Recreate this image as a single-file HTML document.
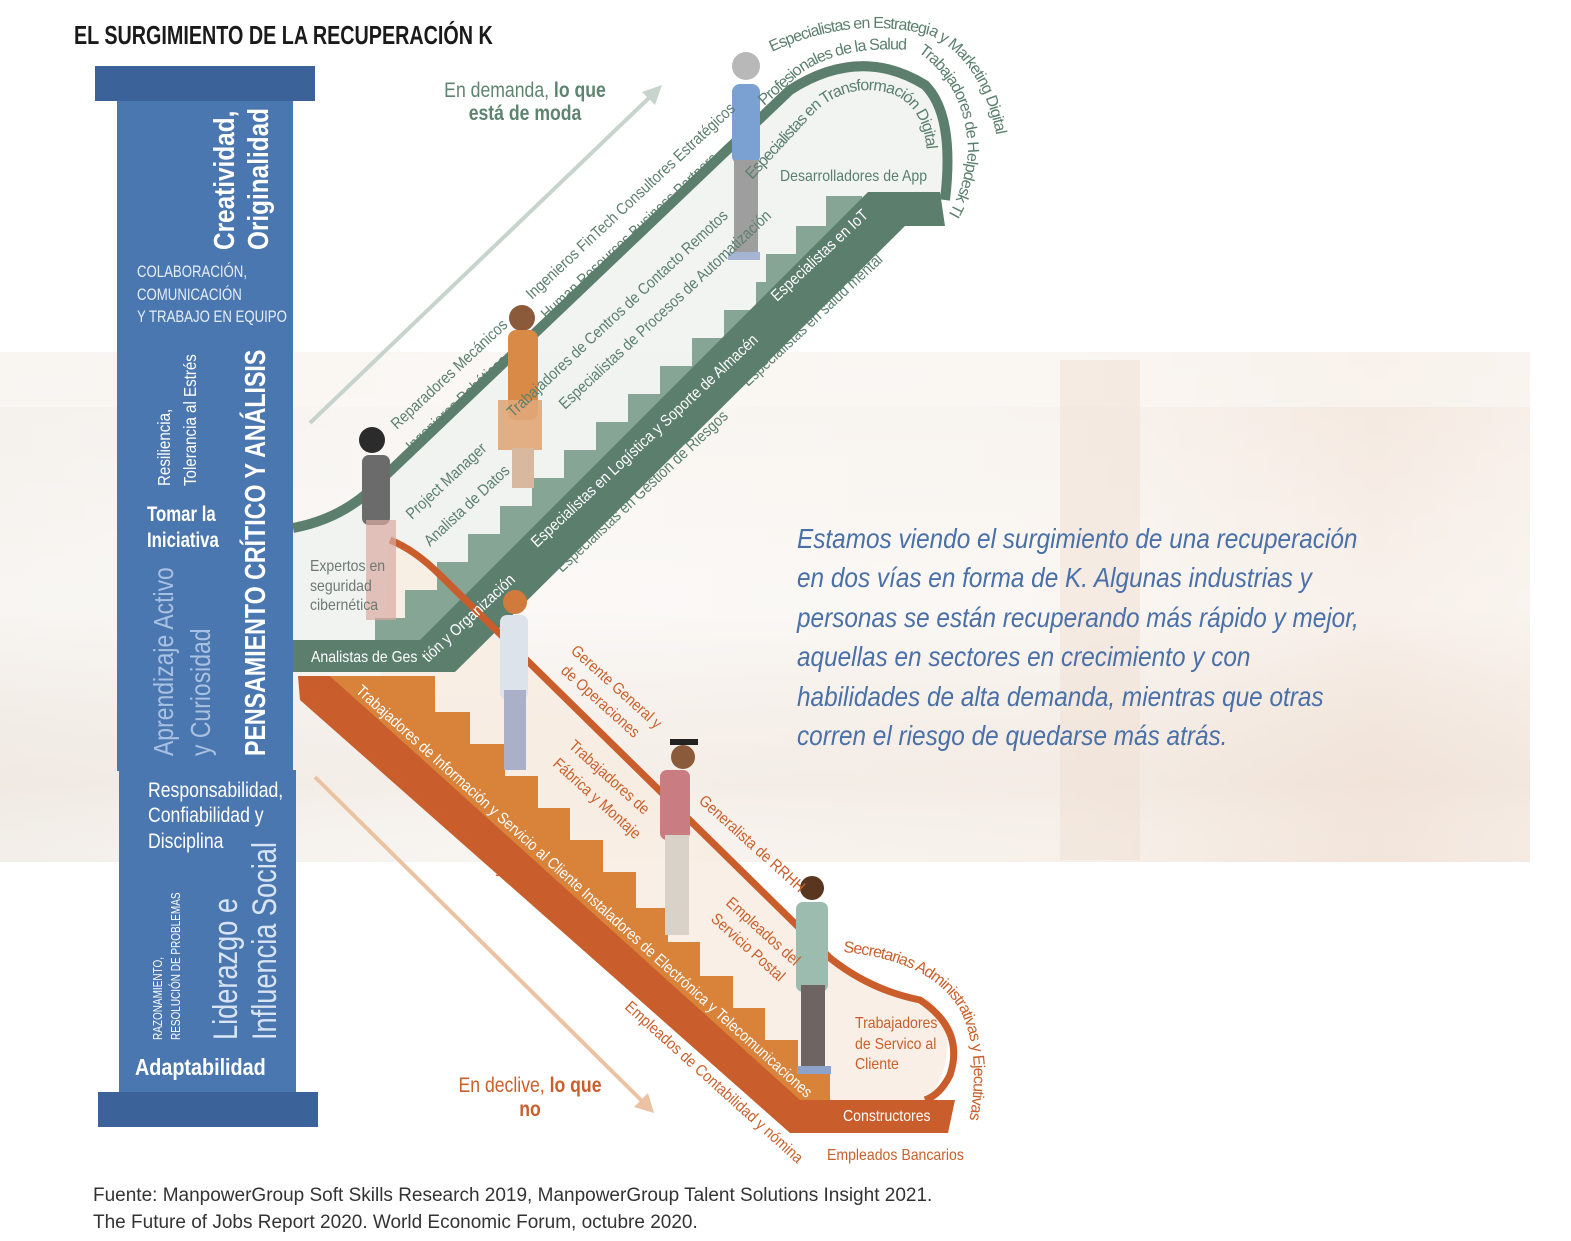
<!DOCTYPE html>
<html><head><meta charset="utf-8">
<style>
html,body{margin:0;padding:0;background:#fff;}
svg{display:block;}
text{font-family:"Liberation Sans Narrow","Liberation Sans",sans-serif;}
.w{fill:#fff}
</style></head><body>
<svg width="1571" height="1241" viewBox="0 0 1571 1241" xmlns="http://www.w3.org/2000/svg">
<defs>
<linearGradient id="bg" x1="0" y1="0" x2="1" y2="0">
<stop offset="0" stop-color="#f1ece6"/><stop offset="0.3" stop-color="#f7f3ef"/><stop offset="0.7" stop-color="#f6efe8"/><stop offset="0.9" stop-color="#f1e2d6"/><stop offset="1" stop-color="#f4e9e0"/>
</linearGradient>
<linearGradient id="bgv" x1="0" y1="0" x2="0" y2="1">
<stop offset="0" stop-color="#fff" stop-opacity="0.2"/><stop offset="0.5" stop-color="#fff" stop-opacity="0.5"/><stop offset="0.85" stop-color="#efe4dc" stop-opacity="0.3"/><stop offset="1" stop-color="#fff" stop-opacity="0.1"/>
</linearGradient>
<path id="pTrans" d="M752,180 L815,112 Q850,80 895,95 Q935,115 925,185"/>
<path id="pSalud" d="M764,106 L800,74 Q840,45 910,50"/>
<path id="pEstr" d="M772,52 Q850,15 930,35 Q990,65 1000,160"/>
<path id="pHelp" d="M918,52 Q965,85 968,150 Q965,195 935,235"/>
<path id="pSecr" d="M843,952 Q930,960 960,1010 Q985,1060 965,1140"/>
</defs>
<rect x="0" y="352" width="1530" height="510" fill="url(#bg)"/>
<rect x="0" y="352" width="1530" height="510" fill="url(#bgv)"/>
<rect x="0" y="352" width="1530" height="55" fill="#fbf8f5" opacity="0.6"/>
<rect x="1060" y="360" width="80" height="500" fill="#efe0d3" opacity="0.5"/>

<text transform="translate(74,44) scale(.76,1)" font-size="26" font-weight="bold" fill="#1a1a1a">EL SURGIMIENTO DE LA RECUPERACIÓN K</text>

<rect x="95" y="66" width="220" height="35" fill="#3b639a"/>
<rect x="117" y="101" width="176" height="670" fill="#4b77b0"/>
<rect x="119" y="770" width="177" height="322" fill="#4b77b0"/>
<rect x="98" y="1092" width="220" height="35" fill="#3b639a"/>
<g font-size="29" font-weight="bold" class="w">
<text transform="translate(234,250) rotate(-90) scale(.84,1)">Creatividad,</text>
<text transform="translate(268,250) rotate(-90) scale(.84,1)">Originalidad</text>
</g>
<g font-size="16.5" fill="#e6eef8">
<text transform="translate(137,277) scale(.8,1)">COLABORACIÓN,</text>
<text transform="translate(137,300) scale(.8,1)">COMUNICACIÓN</text>
<text transform="translate(137,322) scale(.8,1)">Y TRABAJO EN EQUIPO</text>
</g>
<g font-size="18" fill="#fff">
<text transform="translate(170,486) rotate(-90) scale(.84,1)">Resiliencia,</text>
<text transform="translate(196,486) rotate(-90) scale(.84,1)">Tolerancia al Estrés</text>
</g>
<text transform="translate(265,756) rotate(-90) scale(.8,1)" font-size="29" font-weight="bold" fill="#fff">PENSAMIENTO CRÍTICO Y ANÁLISIS</text>
<g font-size="21" font-weight="bold" fill="#fff">
<text transform="translate(147,521) scale(.8,1)">Tomar la</text>
<text transform="translate(147,547) scale(.8,1)">Iniciativa</text>
</g>
<g font-size="28" fill="#a8c0e2">
<text transform="translate(173,756) rotate(-90) scale(.82,1)">Aprendizaje Activo</text>
<text transform="translate(210,756) rotate(-90) scale(.82,1)">y Curiosidad</text>
</g>
<g font-size="21" fill="#fff">
<text transform="translate(148,797) scale(.84,1)">Responsabilidad,</text>
<text transform="translate(148,822) scale(.84,1)">Confiabilidad y</text>
<text transform="translate(148,848) scale(.84,1)">Disciplina</text>
</g>
<g font-size="12.5" fill="#fff">
<text transform="translate(162,1040) rotate(-90) scale(.8,1)">RAZONAMIENTO,</text>
<text transform="translate(180,1040) rotate(-90) scale(.8,1)">RESOLUCIÓN DE PROBLEMAS</text>
</g>
<g font-size="34" fill="#d8e4f4">
<text transform="translate(237,1040) rotate(-90) scale(.8,1)">Liderazgo e</text>
<text transform="translate(276,1040) rotate(-90) scale(.8,1)">Influencia Social</text>
</g>
<text transform="translate(135,1075) scale(.86,1)" font-size="23" font-weight="bold" fill="#fff">Adaptabilidad</text>

<line x1="310" y1="423" x2="652" y2="95" stroke="#c6d4cd" stroke-width="4"/>
<polygon points="662,85 642,92 655,105" fill="#c6d4cd"/>
<line x1="315" y1="777" x2="645" y2="1104" stroke="#ebc3a3" stroke-width="4"/>
<polygon points="654,1113 634,1107 648,1093" fill="#ebc3a3"/>
<g font-size="21" text-anchor="middle">
<text transform="translate(525,97) scale(.84,1)" fill="#5e8470">En demanda, <tspan font-weight="bold">lo que</tspan></text>
<text transform="translate(525,120) scale(.84,1)" fill="#5e8470" font-weight="bold">está de moda</text>
<text transform="translate(530,1092) scale(.84,1)" fill="#c9602c">En declive, <tspan font-weight="bold">lo que</tspan></text>
<text transform="translate(530,1116) scale(.84,1)" fill="#c9602c" font-weight="bold">no</text>
</g>

<path d="M293,528 Q330,515 360,500 L800,85 Q860,50 920,85 Q955,115 945,200 L860,200 L420,640 L293,640 Z" fill="#eef2ef" opacity="0.85"/>
<path d="M390,540 Q415,550 440,575 L835,962 Q870,985 930,1000 Q965,1040 930,1100 L820,1100 L380,690 Z" fill="#f8ece2" opacity="0.85"/>

<path d="M375,640 L375,618 L405,618 L405,590 L437,590 L437,562 L468,562 L468,534 L500,534 L500,506 L532,506 L532,478 L564,478 L564,450 L596,450 L596,422 L628,422 L628,394 L660,394 L660,366 L692,366 L692,338 L724,338 L724,310 L756,310 L756,282 L766,282 L766,254 L796,254 L796,226 L826,226 L826,196 L862,196 L862,210 L430,640 Z" fill="#86a595"/>
<path d="M293,640 L420,640 L868,192 L940,192 L945,226 L905,226 L455,672 L293,672 Z" fill="#5c7f6d"/>
<path d="M293,528 Q335,520 365,495 L790,90 Q860,45 925,85 Q955,115 945,200" fill="none" stroke="#5c7f6d" stroke-width="10"/>

<path d="M330,676 L435,676 L435,712 L470,712 L470,744 L505,744 L505,776 L538,776 L538,808 L570,808 L570,840 L603,840 L603,872 L636,872 L636,908 L668,908 L668,942 L700,942 L700,976 L733,976 L733,1008 L765,1008 L765,1040 L798,1040 L798,1072 L830,1072 L830,1100 L795,1100 Z" fill="#d8823a"/>
<path d="M298,676 L330,676 L800,1100 L955,1100 L948,1133 L790,1133 L300,700 Z" fill="#c95d2b"/>
<path d="M390,540 Q415,550 440,575 L830,958 Q870,990 920,1000 Q965,1030 950,1075 Q940,1095 925,1100" fill="none" stroke="#c95d2b" stroke-width="7"/>

<g>
<circle cx="746" cy="66" r="14" fill="#b8b8b8"/><rect x="732" y="84" width="28" height="80" rx="8" fill="#7aa1d1"/><rect x="734" y="160" width="24" height="95" fill="#9e9e9e"/><rect x="728" y="252" width="32" height="8" fill="#a6b4d4"/>
<circle cx="522" cy="318" r="13" fill="#8a5a3a"/><rect x="508" y="330" width="30" height="90" rx="8" fill="#d98a47"/><rect x="498" y="400" width="44" height="50" fill="#e0a778" opacity="0.9"/><rect x="512" y="448" width="22" height="40" fill="#d9b8a0"/>
<circle cx="372" cy="440" r="13" fill="#2b2b2b"/><rect x="362" y="455" width="28" height="70" rx="7" fill="#6b6b6b"/><rect x="366" y="520" width="30" height="100" fill="#d8aaa0" opacity="0.7"/>
<circle cx="515" cy="602" r="12" fill="#d07a3c"/><rect x="500" y="615" width="28" height="85" rx="7" fill="#dde3ea"/><rect x="504" y="690" width="22" height="80" fill="#aab0c8"/>
<circle cx="683" cy="757" r="12" fill="#8a5a3a"/><path d="M670,745 h28 v-6 h-28z" fill="#222"/><rect x="660" y="770" width="30" height="70" rx="7" fill="#c97c82"/><rect x="665" y="835" width="24" height="100" fill="#d8d2c8"/>
<circle cx="812" cy="888" r="12" fill="#5a3520"/><rect x="796" y="902" width="32" height="90" rx="7" fill="#9cbcb0"/><rect x="801" y="985" width="24" height="85" fill="#6e6464"/><rect x="797" y="1066" width="34" height="8" fill="#8ea3c9"/>
</g>

<g font-size="16" fill="#5b7f6d">
<text transform="translate(397,430) rotate(-43) scale(.88,1)">Reparadores Mecánicos</text>
<text transform="translate(412,452) rotate(-43) scale(.88,1)">Ingenieros Robóticos</text>
<text transform="translate(532,300) rotate(-43) scale(.88,1)">Ingenieros FinTech  Consultores Estratégicos</text>
<text transform="translate(547,320) rotate(-43) scale(.88,1)">Human Resources Business Partners</text>
<text transform="translate(412,520) rotate(-43) scale(.88,1)">Project Manager</text>
<text transform="translate(430,547) rotate(-43) scale(.88,1)">Analista de Datos</text>
<text transform="translate(513,418) rotate(-43) scale(.88,1)">Trabajadores de Centros de Contacto Remotos</text>
<text transform="translate(565,410) rotate(-43) scale(.88,1)">Especialistas de Procesos de Automatización</text>
<text transform="translate(562,573) rotate(-43) scale(.88,1)">Especialistas en Gestión de Riesgos</text>
<text transform="translate(748,387) rotate(-43) scale(.88,1)">Especialistas en salud mental</text>
<text transform="translate(780,181) scale(.88,1)">Desarrolladores de App</text>
</g>
<g font-size="16" fill="#5b7f6d" letter-spacing="-0.9">
<text><textPath href="#pTrans">Especialistas en Transformación Digital</textPath></text>
<text><textPath href="#pSalud">Profesionales de la Salud</textPath></text>
<text><textPath href="#pEstr">Especialistas en Estrategia y Marketing Digital</textPath></text>
<text><textPath href="#pHelp">Trabajadores de Helpdesk TI</textPath></text>
</g>
<g font-size="16" fill="#6d7a72">
<text transform="translate(310,571) scale(.88,1)">Expertos en</text>
<text transform="translate(310,591) scale(.88,1)">seguridad</text>
<text transform="translate(310,610) scale(.88,1)">cibernética</text>
</g>
<g font-size="16" fill="#fff">
<text transform="translate(311,662) scale(.88,1)">Analistas de Ges</text>
<text transform="translate(428,663) rotate(-43) scale(.88,1)">tión y Organización</text>
<text transform="translate(537,548) rotate(-43) scale(.88,1)">Especialistas en Logística y Soporte de Almacén</text>
<text transform="translate(777,302) rotate(-43) scale(.88,1)">Especialistas en IoT</text>
</g>

<g font-size="16" fill="#c9602c">
<text transform="translate(302,690) rotate(42) scale(.88,1)">Capturistas</text>
<text transform="translate(366,754) rotate(42) scale(.88,1)">Gerentes de Administración y Servicios Comerciales</text>
<text transform="translate(624,1008) rotate(42) scale(.88,1)">Empleados de Contabilidad y nómina</text>
<text transform="translate(827,1160) scale(.88,1)">Empleados Bancarios</text>
<text transform="translate(570,652) rotate(42) scale(.88,1)">Gerente General y</text>
<text transform="translate(560,672) rotate(42) scale(.88,1)">de Operaciones</text>
<text transform="translate(568,747) rotate(42) scale(.88,1)">Trabajadores de</text>
<text transform="translate(552,765) rotate(42) scale(.88,1)">Fábrica y Montaje</text>
<text transform="translate(698,802) rotate(42) scale(.88,1)">Generalista de RRHH</text>
<text transform="translate(725,904) rotate(42) scale(.88,1)">Empleados del</text>
<text transform="translate(710,920) rotate(42) scale(.88,1)">Servicio Postal</text>
<text transform="translate(855,1028) scale(.88,1)">Trabajadores</text>
<text transform="translate(855,1049) scale(.88,1)">de Servico al</text>
<text transform="translate(855,1069) scale(.88,1)">Cliente</text>
</g>
<g font-size="16" fill="#c9602c" letter-spacing="-0.9">
<text><textPath href="#pSecr">Secretarias Administrativas y Ejecutivas</textPath></text>
</g>
<g font-size="16" fill="#fff">
<text transform="translate(355,692) rotate(42) scale(.86,1)">Trabajadores de Información y Servicio al Cliente  Instaladores de Electrónica y Telecomunicaciones</text>
<text transform="translate(843,1121) scale(.88,1)">Constructores</text>
</g>

<g font-size="28" font-style="italic" fill="#4a70a8">
<text transform="translate(797,548) scale(.87,1)">Estamos viendo el surgimiento de una recuperación</text>
<text transform="translate(797,587) scale(.87,1)">en dos vías en forma de K. Algunas industrias y</text>
<text transform="translate(797,627) scale(.87,1)">personas se están recuperando más rápido y mejor,</text>
<text transform="translate(797,666) scale(.87,1)">aquellas en sectores en crecimiento y con</text>
<text transform="translate(797,706) scale(.87,1)">habilidades de alta demanda, mientras que otras</text>
<text transform="translate(797,745) scale(.87,1)">corren el riesgo de quedarse más atrás.</text>
</g>

<g font-size="19" fill="#333">
<text x="93" y="1201" style="font-family:'Liberation Sans',sans-serif">Fuente: ManpowerGroup Soft Skills Research 2019, ManpowerGroup Talent Solutions Insight 2021.</text>
<text x="93" y="1228" style="font-family:'Liberation Sans',sans-serif">The Future of Jobs Report 2020. World Economic Forum, octubre 2020.</text>
</g>
</svg>
</body></html>
